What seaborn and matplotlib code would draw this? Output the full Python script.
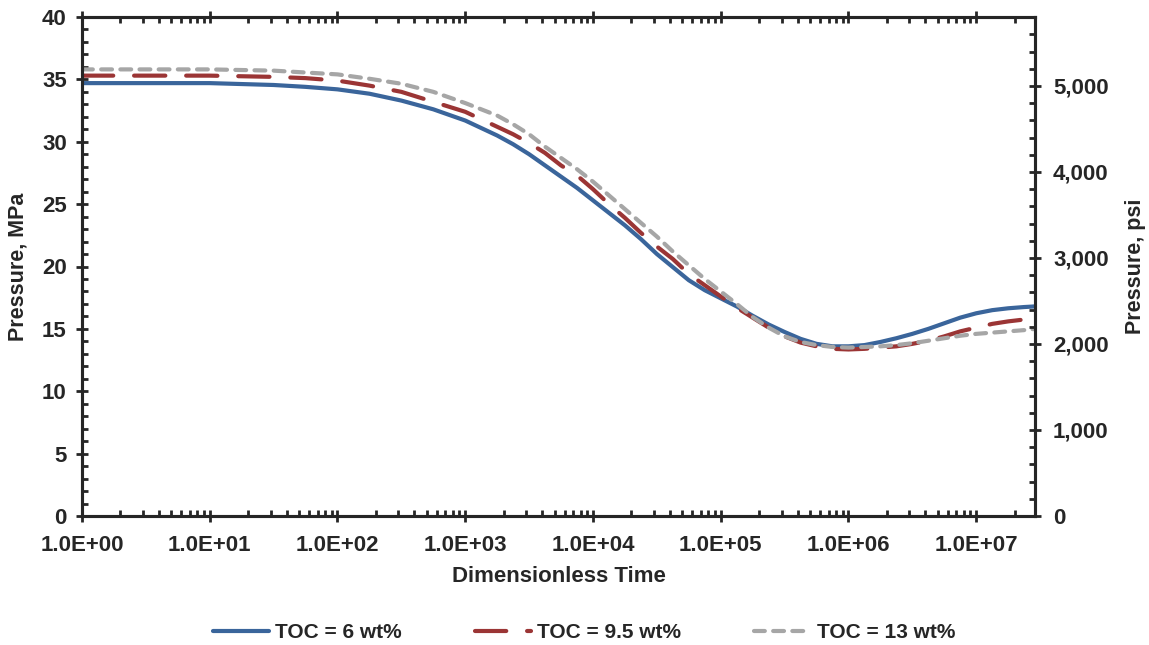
import numpy as np
import pandas as pd
import matplotlib
matplotlib.use("Agg")
import matplotlib.pyplot as plt
import matplotlib.ticker as mticker
import seaborn as sns

# ---- data ----
log_time = [0, 0.5, 1, 1.5, 1.75, 2, 2.25, 2.5, 2.75, 3, 3.125, 3.25, 3.375, 3.5,
            3.625, 3.75, 3.875, 4, 4.125, 4.25, 4.375, 4.5, 4.625, 4.75, 4.875,
            5, 5.125, 5.25, 5.375, 5.5, 5.625, 5.75, 5.875, 6, 6.125, 6.25, 6.375,
            6.5, 6.625, 6.75, 6.875, 7, 7.125, 7.25, 7.375, 7.46]
toc6 = [34.7, 34.7, 34.7, 34.55, 34.4, 34.2, 33.85, 33.3, 32.6, 31.7, 31.1, 30.5,
        29.8, 29.0, 28.1, 27.2, 26.3, 25.3, 24.3, 23.3, 22.2, 21.0, 19.95, 18.9,
        18.1, 17.45, 16.8, 16.05, 15.35, 14.75, 14.2, 13.8, 13.6, 13.6, 13.7, 13.95,
        14.25, 14.6, 15.0, 15.45, 15.9, 16.25, 16.5, 16.65, 16.75, 16.8]
toc95 = [35.3, 35.3, 35.3, 35.2, 35.1, 34.9, 34.5, 34.0, 33.2, 32.4, 31.8, 31.2,
         30.6, 29.9, 29.1, 28.1, 27.3, 26.2, 25.0, 23.9, 22.7, 21.6, 20.6, 19.4,
         18.5, 17.6, 16.7, 15.9, 15.1, 14.4, 13.9, 13.6, 13.4, 13.35, 13.4, 13.5,
         13.6, 13.8, 14.05, 14.4, 14.8, 15.1, 15.4, 15.6, 15.75, 15.85]
toc13 = [35.8, 35.8, 35.8, 35.7, 35.55, 35.4, 35.05, 34.65, 34.0, 33.1, 32.6, 32.1,
         31.4, 30.6, 29.6, 28.7, 27.8, 26.8, 25.7, 24.6, 23.5, 22.4, 21.2, 20.1,
         19.0, 18.0, 17.0, 15.95, 15.1, 14.4, 13.95, 13.7, 13.55, 13.5, 13.55, 13.6,
         13.7, 13.85, 14.05, 14.25, 14.45, 14.6, 14.7, 14.8, 14.9, 15.0]
series_names = ["TOC = 6 wt%", "TOC = 9.5 wt%", "TOC = 13 wt%"]
x_tick_values = [1e0, 1e1, 1e2, 1e3, 1e4, 1e5, 1e6, 1e7]
psi_ticks = [0, 1000, 2000, 3000, 4000, 5000]

time = [10 ** v for v in log_time]
df = pd.DataFrame({
    "time": time * 3,
    "pressure": toc6 + toc95 + toc13,
    "series": sum([[n] * len(time) for n in series_names], []),
})

sns.set_style("white")
plt.rcParams["font.family"] = ["Liberation Sans", "DejaVu Sans"]
plt.rcParams["font.weight"] = "bold"

colors = {series_names[0]: "#3A659B", series_names[1]: "#9B3535", series_names[2]: "#A6A6A6"}
dashes = {series_names[0]: "", series_names[1]: (7.5, 5), series_names[2]: (2.6, 2.0)}

W, H = 1149, 645
fig = plt.figure(figsize=(W / 100, H / 100), dpi=100)
ax = fig.add_axes([82 / W, 1 - 516 / H, (1035 - 82) / W, (516 - 17) / H])

sns.lineplot(data=df, x="time", y="pressure", hue="series", style="series",
             palette=colors, dashes=dashes, linewidth=3.0, ax=ax, legend=False,
             sort=False)
for line in ax.get_lines():
    line.set_dash_capstyle("round")
    line.set_solid_capstyle("round")

ax.set_xscale("log")
ax.set_xlim(1, 10 ** 7.46)
ax.set_ylim(0, 40)
ax.set_xticks(x_tick_values)
ax.xaxis.set_major_formatter(mticker.FuncFormatter(lambda v, p: "%.1E" % v))
ax.xaxis.set_minor_locator(mticker.LogLocator(base=10, subs=np.arange(2, 10), numticks=100))
ax.xaxis.set_minor_formatter(mticker.NullFormatter())
ax.set_yticks(np.arange(0, 41, 5))
ax.yaxis.set_minor_locator(mticker.MultipleLocator(1))

for s in ax.spines.values():
    s.set_linewidth(2.2)
    s.set_color("black")

FS = 16
ax.tick_params(axis="x", which="major", direction="inout", length=8, width=2,
               top=True, bottom=True, labelsize=FS, pad=10)
ax.tick_params(axis="x", which="minor", direction="in", length=4.5, width=2,
               top=True, bottom=True)
ax.tick_params(axis="y", which="major", direction="inout", length=8, width=2,
               left=True, right=False, labelsize=FS, pad=7)
ax.tick_params(axis="y", which="minor", direction="in", length=4.5, width=2,
               left=True, right=False)
for lab in ax.get_xticklabels() + ax.get_yticklabels():
    lab.set_fontweight("bold")

ax.set_xlabel("Dimensionless Time", fontsize=FS, fontweight="bold")
ax.xaxis.set_label_coords(0.5, -(576 - 516) / (516 - 17), transform=ax.transAxes)
ax.xaxis.label.set_va("center")
ax.set_ylabel("Pressure, MPa", fontsize=15.5, fontweight="bold")
ax.yaxis.set_label_coords(-(82 - 18) / (1035 - 82), 0.5)
ax.yaxis.label.set_va("center")

ax2 = ax.twinx()
ax2.set_ylim(0, 40 * 145.0377)
ax2.set_yticks(psi_ticks)
ax2.yaxis.set_major_formatter(mticker.FuncFormatter(lambda v, p: "{:,.0f}".format(v)))
ax2.yaxis.set_minor_locator(mticker.MultipleLocator(200))
ax2.tick_params(axis="y", which="major", direction="inout", length=8, width=2,
                labelsize=FS, pad=9)
ax2.tick_params(axis="y", which="minor", direction="in", length=4.5, width=2)
for lab in ax2.get_yticklabels():
    lab.set_fontweight("bold")
ax2.set_ylabel("Pressure, psi", fontsize=15.5, fontweight="bold")
ax2.yaxis.set_label_coords(1 + (1135 - 1035) / (1035 - 82), 0.5)
ax2.yaxis.label.set_va("center")
for s in ax2.spines.values():
    s.set_linewidth(2.2)

handles = ax.get_lines()[:3]
leg = fig.legend(handles, series_names, loc="center", bbox_to_anchor=(584 / W, 1 - 633 / H),
                 ncol=3, frameon=False, fontsize=15, handlelength=2.7,
                 columnspacing=3.5, handletextpad=0.3, borderpad=0, borderaxespad=0)
for t in leg.get_texts():
    t.set_fontweight("bold")

fig.savefig("out.png", dpi=100)
